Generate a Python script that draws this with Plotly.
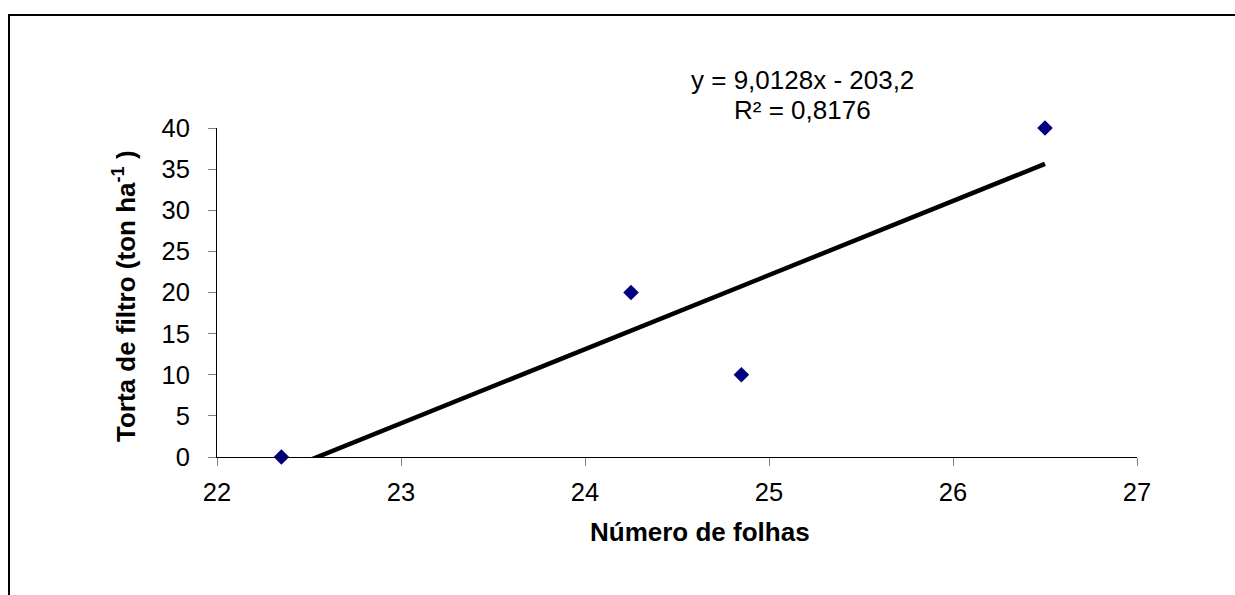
import numpy as np
import plotly.graph_objects as go

# ---- data ----
numero_folhas = [22.35, 24.25, 24.85, 26.5]
torta_filtro = [0, 20, 10, 40]
x_ticks = [22, 23, 24, 25, 26, 27]
y_ticks = [0, 5, 10, 15, 20, 25, 30, 35, 40]
eq_text = "y = 9,0128x - 203,2"
r2_text = "R² = 0,8176"
x_title = "Número de folhas"
y_title = "Torta de filtro (ton ha<sup>-1</sup> )"

W, H = 1235, 595
L, R, T, B = 217, 98, 128, 138
PW, PH = W - L - R, H - T - B

def px(x):
    return (x - L) / PW

def py(y):
    return (H - B - y) / PH

FONT = "Liberation Sans, Arial, sans-serif"

slope, intercept = np.polyfit(numero_folhas, torta_filtro, 1)
tx = [min(numero_folhas), max(numero_folhas)]
ty = [slope * v + intercept for v in tx]

fig = go.Figure()
fig.add_trace(go.Scatter(x=tx, y=ty, mode="lines",
                         line=dict(color="black", width=4.5),
                         showlegend=False, hoverinfo="skip"))
fig.add_trace(go.Scatter(x=numero_folhas, y=torta_filtro, mode="markers",
                         marker=dict(symbol="diamond", size=12, color="#000080",
                                     line=dict(width=0)),
                         showlegend=False, cliponaxis=False))

axis_common = dict(showgrid=False, zeroline=False, showline=True, linecolor="black",
                   linewidth=1, ticks="outside", ticklen=8, tickcolor="#808080",
                   tickwidth=1, tickfont=dict(family=FONT, size=25.5, color="black"))
fig.update_xaxes(range=[22, 27], tickvals=x_ticks, ticktext=[str(v) for v in x_ticks],
                 ticklabelstandoff=4, **axis_common)
fig.update_yaxes(range=[0, 40], tickvals=y_ticks, ticktext=[str(v) for v in y_ticks],
                 ticklabelstandoff=13, **axis_common)

anns = [
    dict(text=f"<b>{x_title}</b>", x=px(700), y=py(532)),
    dict(text=f"<b>{y_title}</b>", x=px(124), y=py(296), textangle=-90),
    dict(text=eq_text, x=px(802), y=py(80)),
    dict(text=r2_text, x=px(802), y=py(110)),
]
for a in anns:
    a.update(xref="paper", yref="paper", showarrow=False, xanchor="center", yanchor="middle",
             font=dict(family=FONT, size=26, color="black"))

fig.update_layout(
    width=W, height=H, margin=dict(l=L, r=R, t=T, b=B),
    paper_bgcolor="white", plot_bgcolor="white",
    annotations=anns,
    shapes=[dict(type="rect", xref="paper", yref="paper",
                 x0=px(9), x1=px(W + 10), y0=py(H + 10), y1=py(15),
                 line=dict(color="black", width=2), fillcolor="rgba(0,0,0,0)")],
)
fig.write_html("out.html", config={"displayModeBar": False},
               post_script="document.body.style.margin='0';document.body.style.overflow='hidden';")
